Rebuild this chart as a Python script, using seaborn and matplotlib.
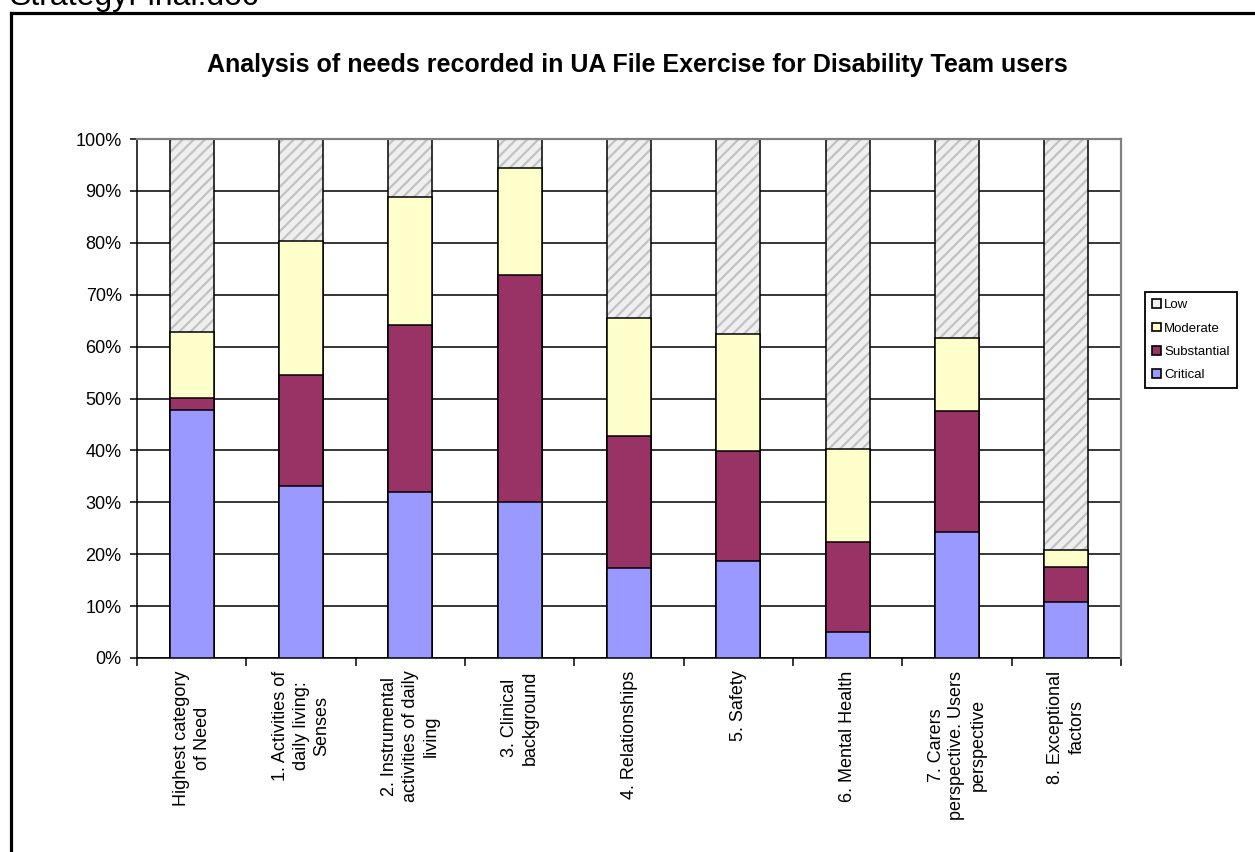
import matplotlib
matplotlib.use("Agg")
import matplotlib.pyplot as plt
from matplotlib.patches import Patch
from matplotlib.lines import Line2D
from matplotlib.ticker import FixedLocator, PercentFormatter
import numpy as np
import pandas as pd
import seaborn as sns

# Need areas (x axis)
categories = [
    "Highest category\nof Need",
    "1. Activities of\ndaily living:\nSenses",
    "2. Instrumental\nactivities of daily\nliving",
    "3. Clinical\nbackground",
    "4. Relationships",
    "5. Safety",
    "6. Mental Health",
    "7. Carers\nperspective. Users\nperspective",
    "8. Exceptional\nfactors",
]

# Share of users (%) at each level of need
critical = [47.7, 33.2, 32.0, 30.1, 17.4, 18.6, 5.1, 24.3, 10.8]
substantial = [2.4, 21.3, 32.1, 43.6, 25.4, 21.2, 17.3, 23.2, 6.7]
moderate = [12.7, 25.8, 24.7, 20.8, 22.8, 22.6, 17.8, 14.2, 3.4]
low = [37.2, 19.7, 11.2, 5.5, 34.4, 37.6, 59.8, 38.3, 79.1]

levels = ["Low", "Moderate", "Substantial", "Critical"]
colors = {"Low": "#efefef", "Moderate": "#FFFFCC",
          "Substantial": "#993366", "Critical": "#9999FF"}
y_ticks = list(range(0, 101, 10))

title = "Analysis of needs recorded in UA File Exercise for Disability Team users"

df = pd.DataFrame({"category": categories, "Critical": critical,
                   "Substantial": substantial, "Moderate": moderate, "Low": low})
# cumulative tops so that each layer can be overdrawn from the tallest down
df["top_Critical"] = df["Critical"]
df["top_Substantial"] = df["top_Critical"] + df["Substantial"]
df["top_Moderate"] = df["top_Substantial"] + df["Moderate"]
df["top_Low"] = df["top_Moderate"] + df["Low"]

sns.set_style("white")
plt.rcParams["font.family"] = ["Liberation Sans", "DejaVu Sans"]
plt.rcParams["hatch.linewidth"] = 1.6
plt.rcParams["text.color"] = "black"
plt.rcParams["xtick.color"] = "black"
plt.rcParams["ytick.color"] = "black"
plt.rcParams["axes.labelcolor"] = "black"

fig = plt.figure(figsize=(12.55, 8.52), dpi=100)
ax = fig.add_axes([137 / 1255, 1 - 658 / 852, (1121 - 137) / 1255, (658 - 139) / 852])

bar_w = 0.4
edge_lw = 1.1

# Low layer: hatched grey, drawn at full height
sns.barplot(data=df, x="category", y="top_Low", order=categories, ax=ax,
            color=colors["Low"], width=bar_w, hatch="///",
            edgecolor="#c2c2c2", linewidth=0, saturation=1, zorder=2)
sns.barplot(data=df, x="category", y="top_Low", order=categories, ax=ax,
            color="black", width=bar_w, fill=False, linewidth=edge_lw,
            saturation=1, zorder=3)

for lvl in ["Moderate", "Substantial", "Critical"]:
    sns.barplot(data=df, x="category", y=f"top_{lvl}", order=categories, ax=ax,
                color=colors[lvl], width=bar_w, edgecolor="black",
                linewidth=edge_lw, saturation=1, zorder=4)

ax.set_ylim(0, 100)
ax.set_xlim(-0.5, len(categories) - 0.5)
ax.set_xlabel("")
ax.set_ylabel("")
ax.yaxis.set_major_locator(FixedLocator(y_ticks))
ax.yaxis.set_major_formatter(PercentFormatter(decimals=0))
ax.yaxis.grid(True, color="black", linewidth=1.1, zorder=0)
ax.xaxis.grid(False)
ax.set_axisbelow(True)

ax.set_xticks(range(len(categories)))
ax.set_xticklabels(categories, rotation=90, ha="center", va="top",
                   multialignment="center", fontsize=13, linespacing=1.3,
                   color="black")
ax.set_xticks(np.arange(-0.5, len(categories), 1.0), minor=True)
ax.tick_params(axis="x", which="major", length=0, pad=9)
ax.tick_params(axis="x", which="minor", length=6, width=1.1, direction="out",
               color="black", bottom=True)
ax.tick_params(axis="y", length=5, width=1.1, direction="out", left=True,
               labelsize=13, pad=6, color="black", labelcolor="black")

for side in ["left", "bottom"]:
    ax.spines[side].set_color("black")
    ax.spines[side].set_linewidth(1.1)
for side in ["top", "right"]:
    ax.spines[side].set_color("#808080")
    ax.spines[side].set_linewidth(1.6)
    ax.spines[side].set_zorder(5)

fig.text(637 / 1255, 1 - 65 / 852, title, ha="center", va="center",
         fontsize=18, fontweight="bold", color="black")

handles = [Patch(facecolor=colors[l], edgecolor="black", linewidth=1.2, label=l)
           for l in levels]
leg = fig.legend(handles=handles, loc="upper left",
                 bbox_to_anchor=(1145 / 1255, 1 - 292 / 852),
                 bbox_transform=fig.transFigure, fontsize=9.5, frameon=True,
                 fancybox=False, framealpha=1, edgecolor="black",
                 handlelength=0.65, handleheight=0.65, handletextpad=0.25,
                 labelspacing=0.85, borderpad=0.55, borderaxespad=0)
leg.get_frame().set_linewidth(1.3)
for t in leg.get_texts():
    t.set_color("black")

# document frame and file name above it
fig.add_artist(Line2D([11.5 / 1255, 11.5 / 1255], [0, 1 - 12.5 / 852],
                      transform=fig.transFigure, color="black", linewidth=2.3,
                      solid_capstyle="projecting"))
fig.add_artist(Line2D([11.5 / 1255, 1.0], [1 - 12.5 / 852, 1 - 12.5 / 852],
                      transform=fig.transFigure, color="black", linewidth=2.3,
                      solid_capstyle="projecting"))
fig.text(10 / 1255, 1 - 5 / 852, "StrategyFinal.doc", ha="left", va="baseline",
         fontsize=23, color="black")

fig.savefig("out.png", dpi=100, facecolor="white")
